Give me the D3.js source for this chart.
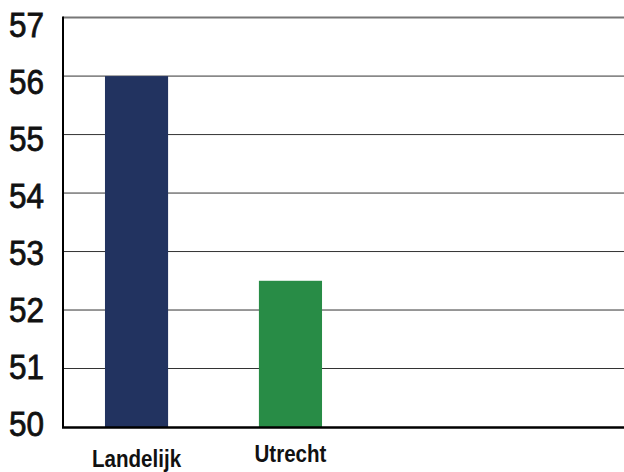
<!DOCTYPE html>
<html>
<head>
<meta charset="utf-8">
<script src="https://d3js.org/d3.v7.min.js"></script>
<style>
  body { margin: 0; background: #fff; }
  svg { display: block; }
  .ylab { font-family: "Liberation Sans", Arial, sans-serif; font-size: 35px; fill: #111; stroke: #111; stroke-width: 0.8px; }
  .xlab { font-family: "Liberation Sans", Arial, sans-serif; font-size: 24.5px; font-weight: bold; fill: #111; }
</style>
</head>
<body>
<div id="chart"></div>
<script>
// data
var categories = ["Landelijk", "Utrecht"];
var values = [56, 52.5];
var colors = ["#223360", "#288c46"];
var yTicks = [50, 51, 52, 53, 54, 55, 56, 57];

var width = 624, height = 472;
var plotLeft = 63, plotRight = 624, plotTop = 17.6, plotBottom = 427;

var svg = d3.select("#chart").append("svg")
  .attr("width", width)
  .attr("height", height);

var y = d3.scaleLinear().domain([50, 57]).range([plotBottom, plotTop]);
// the tick labels sit on a slightly tighter spacing than the grid
var yLabel = d3.scaleLinear().domain([50, 57]).range([423, 24]);

var x = d3.scaleBand()
  .domain(categories)
  .range([plotLeft, 364])
  .paddingInner(0.59)
  .paddingOuter(0.2727);

// grid lines
svg.append("g").selectAll("line")
  .data(yTicks.filter(function (d) { return d > 50; }))
  .enter()
  .append("line")
  .attr("x1", plotLeft)
  .attr("x2", plotRight)
  .attr("y1", function (d) { return y(d); })
  .attr("y2", function (d) { return y(d); })
  .attr("stroke", function (d) { return d === 57 ? "#777" : "#333"; })
  .attr("stroke-width", function (d) { return d === 57 ? 2 : 1; });

// bars
svg.append("g").selectAll("rect")
  .data(values)
  .enter()
  .append("rect")
  .attr("x", function (d, i) { return x(categories[i]); })
  .attr("width", x.bandwidth())
  .attr("y", function (d) { return y(d); })
  .attr("height", function (d) { return y(50) - y(d); })
  .attr("fill", function (d, i) { return colors[i]; });

// axes lines
svg.append("line")
  .attr("x1", plotLeft).attr("x2", plotLeft)
  .attr("y1", plotTop - 1).attr("y2", plotBottom + 1)
  .attr("stroke", "#000").attr("stroke-width", 2);
svg.append("line")
  .attr("x1", plotLeft - 1).attr("x2", plotRight)
  .attr("y1", plotBottom + 0.5).attr("y2", plotBottom + 0.5)
  .attr("stroke", "#000").attr("stroke-width", 2.5);

// y labels (slightly condensed)
svg.append("g").selectAll("text")
  .data(yTicks)
  .enter()
  .append("text")
  .attr("class", "ylab")
  .attr("dy", "0.36em")
  .attr("transform", function (d) {
    return "translate(9," + yLabel(d) + ") scale(0.9,1)";
  })
  .text(function (d) { return d; });

// x labels, staggered and condensed
svg.append("g").selectAll("text")
  .data(categories)
  .enter()
  .append("text")
  .attr("class", "xlab")
  .attr("text-anchor", "middle")
  .attr("transform", function (d, i) {
    var cx = x(d) + x.bandwidth() / 2;
    var cy = i % 2 === 0 ? 467 : 462;
    return "translate(" + cx + "," + cy + ") scale(0.84,1)";
  })
  .text(function (d) { return d; });
</script>
</body>
</html>
